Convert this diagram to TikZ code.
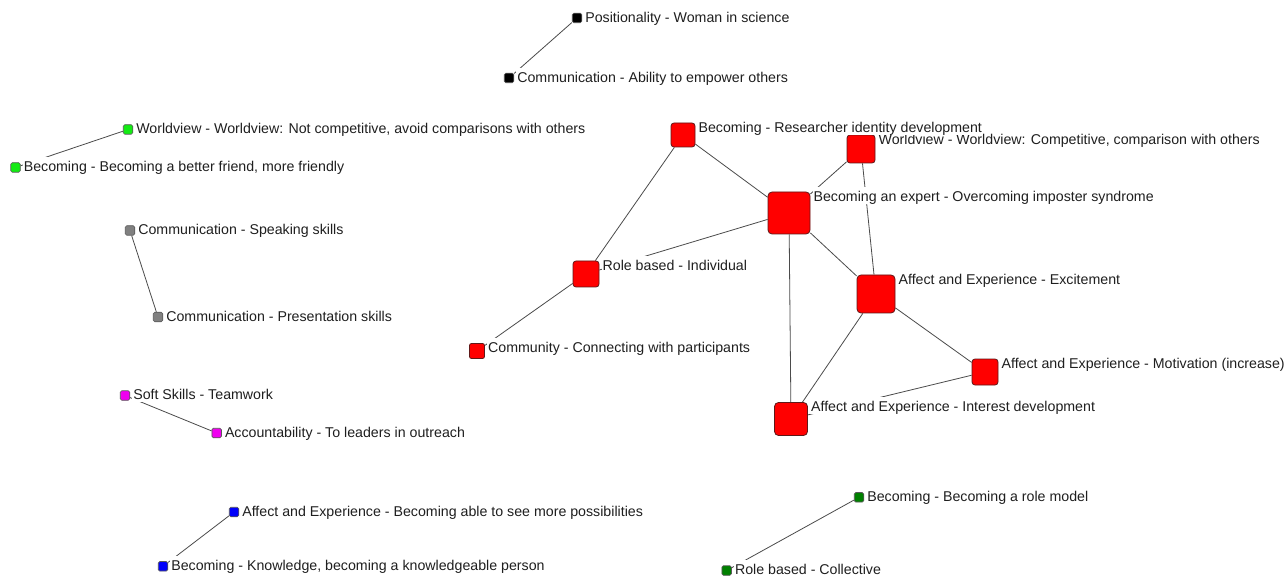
\documentclass[tikz,border=0pt]{standalone}
\usepackage{fontspec}
\setmainfont{Liberation Sans}
\usetikzlibrary{calc}
\pgfdeclarelayer{background}
\pgfsetlayers{background,main}
\definecolor{nred}{RGB}{255,0,0}
\definecolor{nredb}{RGB}{95,25,25}
\definecolor{nlime}{RGB}{20,235,20}
\definecolor{ngray}{RGB}{128,128,128}
\definecolor{nmag}{RGB}{240,0,240}
\definecolor{nblue}{RGB}{0,0,250}
\definecolor{ndgreen}{RGB}{0,128,0}
\definecolor{nedge}{RGB}{75,75,75}
\begin{document}
\begin{tikzpicture}[x=1pt,y=-1pt,
  vtx/.style={rectangle, rounded corners=1.5pt, minimum size=9.5pt, inner sep=0pt, draw=black!65, line width=0.7pt},
  rv/.style={rectangle, rounded corners=3pt, inner sep=0pt, fill=nred, draw=nredb, line width=0.8pt, minimum size=#1},
  lab/.style={anchor=base west, fill=white, inner xsep=1pt, inner ysep=0.5pt, text height=14pt, text depth=2pt, font=\fontsize{14.2}{16}\selectfont, text=black!88},
  edge/.style={draw=nedge, line width=0.8pt}
]
\begin{pgfonlayer}{background}
\path[use as bounding box, fill=white] (0,0) rectangle (1286,577);
\end{pgfonlayer}

% small isolated pairs
\node[vtx, fill=black] (p) at (577,18) {};
\node[vtx, fill=black] (ca) at (509,78) {};
\node[vtx, fill=nlime] (wnc) at (128,129.5) {};
\node[vtx, fill=nlime] (bf) at (15.5,167.5) {};
\node[vtx, fill=ngray] (cs) at (130,230.5) {};
\node[vtx, fill=ngray] (cp) at (158,317) {};
\node[vtx, fill=nmag] (st) at (125,395.5) {};
\node[vtx, fill=nmag] (al) at (216.7,433) {};
\node[vtx, fill=nblue] (ab) at (234,512) {};
\node[vtx, fill=nblue] (bk) at (163,566.3) {};
\node[vtx, fill=ndgreen] (br) at (859,497.3) {};
\node[vtx, fill=ndgreen] (rc) at (726.7,570.5) {};

% red component
\node[rv=24pt] (rid) at (683,135) {};
\node[rv=28pt] (wc) at (861,149) {};
\node[rv=42pt, rounded corners=4pt] (be) at (789,213) {};
\node[rv=26pt] (ri) at (586,274) {};
\node[rv=15pt, rounded corners=2pt] (cc) at (477,351) {};
\node[rv=38pt, rounded corners=4pt] (ex) at (876,294) {};
\node[rv=26pt] (mo) at (985,372) {};
\node[rv=33pt, rounded corners=4pt] (id) at (791,419) {};

\begin{pgfonlayer}{background}
\draw[edge] (p) -- (ca);
\draw[edge] (wnc) -- (bf);
\draw[edge] (cs) -- (cp);
\draw[edge] (st) -- (al);
\draw[edge] (ab) -- (bk);
\draw[edge] (br) -- (rc);
\draw[edge] (rid) -- (be);
\draw[edge] (rid) -- (ri);
\draw[edge] (wc) -- (be);
\draw[edge] (wc) -- (ex);
\draw[edge] (be) -- (ri);
\draw[edge] (be) -- (ex);
\draw[edge] (be) -- (id);
\draw[edge] (ri) -- (cc);
\draw[edge] (ex) -- (id);
\draw[edge] (ex) -- (mo);
\draw[edge] (mo) -- (id);
\end{pgfonlayer}

% labels
\node[lab] (lp) at ($(p.north east)+(2,9.5)$) {Positionality - Woman in science};
\node[lab] (lca) at ($(ca.north east)+(2,9.5)$) {Communication - Ability to empower others};
\node[lab] (lwnc) at ($(wnc.north east)+(2,9.5)$) {Worldview - Worldview: Not competitive, avoid comparisons with others};
\node[lab] (lbf) at ($(bf.north east)+(2,9.5)$) {Becoming - Becoming a better friend, more friendly};
\node[lab] (lcs) at ($(cs.north east)+(2,9.5)$) {Communication - Speaking skills};
\node[lab] (lcp) at ($(cp.north east)+(2,9.5)$) {Communication - Presentation skills};
\node[lab] (lst) at ($(st.north east)+(2,9.5)$) {Soft Skills - Teamwork};
\node[lab] (lal) at ($(al.north east)+(2,9.5)$) {Accountability - To leaders in outreach};
\node[lab] (lab) at ($(ab.north east)+(2,9.5)$) {Affect and Experience - Becoming able to see more possibilities};
\node[lab] (lbk) at ($(bk.north east)+(2,9.5)$) {Becoming - Knowledge, becoming a knowledgeable person};
\node[lab] (lbr) at ($(br.north east)+(2,9.5)$) {Becoming - Becoming a role model};
\node[lab] (lrc) at ($(rc.north east)+(2,9.5)$) {Role based - Collective};

\node[lab] (lwc) at ($(wc.north east)+(2,9.5)$) {Worldview - Worldview: Competitive, comparison with others};
\node[lab] (lrid) at ($(rid.north east)+(2,9.5)$) {Becoming - Researcher identity development};
\node[lab] (lbe) at ($(be.north east)+(2,9.5)$) {Becoming an expert - Overcoming imposter syndrome};
\node[lab] (lri) at ($(ri.north east)+(2,9.5)$) {Role based - Individual};
\node[lab] (lcc) at ($(cc.north east)+(2,9.5)$) {Community - Connecting with participants};
\node[lab] (lex) at ($(ex.north east)+(2,9.5)$) {Affect and Experience - Excitement};
\node[lab] (lmo) at ($(mo.north east)+(2,9.5)$) {Affect and Experience - Motivation (increase)};
\node[lab] (lid) at ($(id.north east)+(2,9.5)$) {Affect and Experience - Interest development};
\end{tikzpicture}
\end{document}
